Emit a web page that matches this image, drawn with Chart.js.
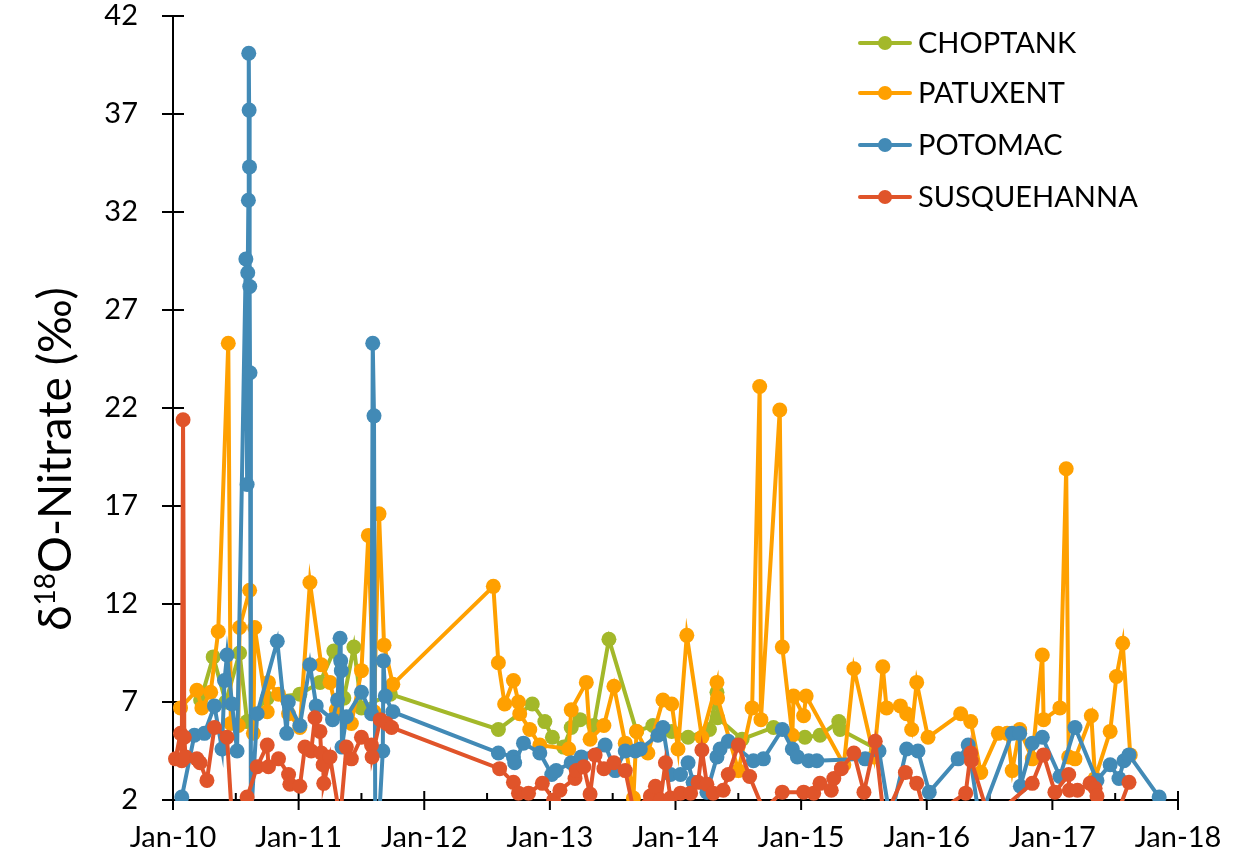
<!DOCTYPE html>
<html>
<head>
<meta charset="utf-8">
<script src="https://cdn.jsdelivr.net/npm/chart.js@4.4.1/dist/chart.umd.min.js"></script>
<style>
  html, body { margin: 0; padding: 0; background: #fff; }
  #wrap { width: 1248px; height: 858px; }
</style>
</head>
<body>
<div id="wrap"><canvas id="myChart" width="1248" height="858"></canvas></div>
<script>
// sample dates as decimal years, values in per mil
const choptankDates = [2010.22, 2010.32, 2010.42, 2010.53, 2010.59, 2010.75, 2011.01, 2011.17, 2011.28, 2011.36, 2011.44, 2011.50, 2011.73,
  2012.59, 2012.86, 2012.96, 2013.02, 2013.11, 2013.17, 2013.24, 2013.35, 2013.47, 2013.69, 2013.82, 2013.97, 2014.10, 2014.27,
  2014.33, 2014.335, 2014.53, 2014.78, 2015.03, 2015.15, 2015.30, 2015.31, 2015.60];
const choptankValues = [7.1, 9.3, 7.0, 9.5, 6.0, 7.2, 7.4, 8.0, 9.6, 7.2, 9.8, 6.7, 7.4,
  5.6, 6.9, 6.0, 5.2, 4.7, 5.7, 6.1, 5.8, 10.2, 5.5, 5.8, 5.5, 5.2, 5.6,
  7.5, 6.2, 5.1, 5.7, 5.2, 5.3, 6.0, 5.6, 4.6];

const patuxentDates = [2010.06, 2010.19, 2010.23, 2010.30, 2010.36, 2010.44, 2010.46, 2010.52, 2010.53, 2010.61, 2010.64, 2010.65,
  2010.75, 2010.76, 2010.84, 2010.92, 2011.01, 2011.09, 2011.18, 2011.25, 2011.30, 2011.42, 2011.50, 2011.555, 2011.60, 2011.64,
  2011.68, 2011.75, 2012.55, 2012.59, 2012.64, 2012.71, 2012.75, 2012.76, 2012.84, 2012.92, 2013.15, 2013.17, 2013.29, 2013.32,
  2013.43, 2013.51, 2013.60, 2013.665, 2013.69, 2013.78, 2013.90, 2013.97, 2014.02, 2014.09, 2014.21, 2014.33, 2014.335, 2014.50,
  2014.61, 2014.67, 2014.68, 2014.83, 2014.85, 2014.93, 2014.94, 2015.02, 2015.04, 2015.34, 2015.42, 2015.58, 2015.65, 2015.68,
  2015.79, 2015.84, 2015.88, 2015.92, 2016.01, 2016.27, 2016.35, 2016.43, 2016.57, 2016.64, 2016.68, 2016.74, 2016.84, 2016.92,
  2016.93, 2017.06, 2017.11, 2017.13, 2017.18, 2017.31, 2017.34, 2017.46, 2017.51, 2017.56, 2017.62];
const patuxentValues = [6.7, 7.6, 6.7, 7.5, 10.6, 25.3, 5.9, 5.8, 10.8, 12.7, 5.4, 10.8,
  6.5, 8.0, 7.4, 6.4, 5.7, 13.1, 8.9, 8.0, 6.6, 5.9, 8.6, 15.5, 6.5, 16.6,
  9.9, 7.9, 12.9, 9.0, 6.9, 8.1, 7.0, 6.4, 5.6, 4.8, 4.6, 6.6, 8.0, 5.1,
  5.8, 7.8, 4.9, 2.1, 5.5, 4.4, 7.1, 6.9, 4.6, 10.4, 5.2, 8.0, 7.2, 3.5,
  6.7, 23.1, 6.1, 21.9, 9.8, 5.3, 7.3, 6.3, 7.3, 3.8, 8.7, 4.2, 8.8, 6.7,
  6.8, 6.4, 5.6, 8.0, 5.2, 6.4, 6.0, 3.4, 5.4, 5.4, 3.5, 5.6, 4.1, 9.4,
  6.1, 6.7, 18.9, 4.2, 4.1, 6.3, 3.1, 5.5, 8.3, 10.0, 4.3];

const potomacDates = [2010.07, 2010.17, 2010.25, 2010.33, 2010.39, 2010.41, 2010.43, 2010.47, 2010.51, 2010.58, 2010.59, 2010.595,
  2010.60, 2010.603, 2010.606, 2010.609, 2010.611, 2010.613, 2010.62, 2010.67, 2010.83, 2010.905, 2010.918, 2011.01, 2011.09,
  2011.14, 2011.27, 2011.31, 2011.33, 2011.335, 2011.34, 2011.345, 2011.38, 2011.50, 2011.58, 2011.59, 2011.60, 2011.61, 2011.64,
  2011.67, 2011.675, 2011.69, 2011.75, 2012.59, 2012.71, 2012.72, 2012.79, 2012.92, 2013.015, 2013.05, 2013.17, 2013.25, 2013.44,
  2013.52, 2013.60, 2013.68, 2013.72, 2013.86, 2013.90, 2013.96, 2014.04, 2014.10, 2014.14, 2014.25, 2014.33, 2014.355, 2014.42,
  2014.62, 2014.70, 2014.85, 2014.93, 2014.97, 2015.06, 2015.125, 2015.51, 2015.62, 2015.71, 2015.84, 2015.93, 2016.02, 2016.25,
  2016.33, 2016.42, 2016.68, 2016.74, 2016.745, 2016.84, 2016.92, 2017.06, 2017.18, 2017.355, 2017.46, 2017.53, 2017.57, 2017.61,
  2017.85];
const potomacValues = [2.15, 5.3, 5.4, 6.8, 4.6, 8.1, 9.4, 6.9, 4.5, 29.6, 18.1, 28.9,
  32.6, 40.1, 37.2, 34.3, 28.2, 23.8, 1.0, 6.4, 10.1, 5.4, 7.0, 5.8, 8.9,
  6.8, 6.1, 7.1, 10.25, 9.1, 8.6, 4.7, 6.25, 7.5, 6.4, 25.3, 21.6, 1.0, 1.0,
  4.5, 9.1, 7.3, 6.5, 4.4, 4.2, 3.9, 4.9, 4.4, 3.3, 3.5, 3.9, 4.2, 4.8,
  3.5, 4.5, 4.5, 4.6, 5.3, 5.7, 3.3, 3.3, 3.9, 2.9, 2.4, 4.2, 4.6, 5.0,
  4.0, 4.1, 5.6, 4.6, 4.2, 4.0, 4.0, 4.1, 4.5, 1.0, 4.6, 4.5, 2.4, 4.1,
  4.8, 1.0, 5.4, 5.4, 2.7, 4.9, 5.2, 3.2, 5.7, 3.0, 3.8, 3.1, 4.0, 4.3,
  2.15];

const susquehannaDates = [2010.02, 2010.06, 2010.07, 2010.08, 2010.09, 2010.10, 2010.19, 2010.215, 2010.27, 2010.33, 2010.43, 2010.47,
  2010.59, 2010.67, 2010.75, 2010.76, 2010.84, 2010.92, 2010.93, 2011.01, 2011.05, 2011.10, 2011.13, 2011.17, 2011.18, 2011.195,
  2011.20, 2011.25, 2011.33, 2011.38, 2011.42, 2011.50, 2011.58, 2011.585, 2011.65, 2011.70, 2011.74, 2012.60, 2012.71, 2012.75,
  2012.83, 2012.94, 2013.03, 2013.08, 2013.20, 2013.21, 2013.27, 2013.32, 2013.36, 2013.43, 2013.51, 2013.60, 2013.665, 2013.80,
  2013.84, 2013.88, 2013.92, 2013.96, 2014.04, 2014.12, 2014.18, 2014.21, 2014.25, 2014.30, 2014.38, 2014.42, 2014.50, 2014.59,
  2014.70, 2014.85, 2015.02, 2015.10, 2015.15, 2015.24, 2015.26, 2015.32, 2015.42, 2015.50, 2015.59, 2015.66, 2015.83, 2015.92,
  2016.00, 2016.31, 2016.35, 2016.355, 2016.50, 2016.84, 2016.93, 2017.02, 2017.13, 2017.135, 2017.20, 2017.30, 2017.34, 2017.355,
  2017.50, 2017.61];
const susquehannaValues = [4.1, 5.4, 4.0, 21.4, 5.2, 4.2, 4.1, 3.9, 3.0, 5.7, 5.2, 1.0,
  2.15, 3.7, 4.8, 3.7, 4.1, 3.3, 2.8, 2.7, 4.7, 4.5, 6.2, 5.5, 4.4, 3.8,
  2.85, 4.2, 1.0, 4.7, 4.1, 5.2, 4.8, 4.2, 6.1, 5.9, 5.7, 3.6, 2.9, 2.35,
  2.35, 2.85, 2.0, 2.5, 3.1, 3.5, 3.7, 2.3, 4.3, 3.6, 3.9, 3.5, 1.5, 2.2,
  2.7, 2.0, 3.9, 2.1, 2.35, 2.35, 2.9, 4.55, 2.8, 2.35, 2.5, 3.3, 4.8, 3.2,
  1.5, 2.4, 2.4, 2.35, 2.85, 2.5, 3.1, 3.6, 4.4, 2.4, 5.0, 1.0, 3.4, 2.85,
  1.0, 2.35, 4.4, 4.0, 1.0, 2.85, 4.3, 2.4, 3.3, 2.5, 2.5, 2.85, 2.6, 2.2,
  1.0, 2.9];

const yTicks = [2, 7, 12, 17, 22, 27, 32, 37, 42];
const yearTicks = [2010, 2011, 2012, 2013, 2014, 2015, 2016, 2017, 2018];

const FONT = 'Lato, "Open Sans", sans-serif';
const toPoints = (dates, values) => dates.map((d, i) => ({ x: d, y: values[i] }));

function series(label, dates, values, color, order) {
  return {
    label: label,
    data: toPoints(dates, values),
    borderColor: color,
    backgroundColor: color,
    pointBackgroundColor: color,
    pointBorderWidth: 0,
    pointRadius: 7.5,
    borderWidth: 4,
    tension: 0,
    order: order,
    clip: { left: 10, top: 10, right: 10, bottom: 1 }
  };
}

// axis lines, cross ticks, title and legend drawn by hand
const decorPlugin = {
  id: 'decor',
  beforeDatasetsDraw(chart) {
    const { ctx, chartArea: a, scales } = chart;
    ctx.save();
    ctx.strokeStyle = '#000';
    ctx.lineWidth = 2;
    ctx.beginPath();
    ctx.moveTo(a.left, a.top - 1);
    ctx.lineTo(a.left, a.bottom);
    ctx.lineTo(a.right, a.bottom);
    yTicks.forEach(v => {
      const y = scales.y.getPixelForValue(v);
      ctx.moveTo(a.left - 11, y);
      ctx.lineTo(a.left + 11, y);
    });
    for (let yr = 2010; yr <= 2018; yr += 0.5) {
      const x = scales.x.getPixelForValue(yr);
      if (Number.isInteger(yr)) {
        ctx.moveTo(x, a.bottom - 9);
        ctx.lineTo(x, a.bottom + 10);
      } else {
        ctx.moveTo(x, a.bottom - 7);
        ctx.lineTo(x, a.bottom);
      }
    }
    ctx.stroke();
    ctx.restore();
  },
  afterDraw(chart) {
    const { ctx } = chart;
    // y axis title with superscript 18
    ctx.save();
    ctx.translate(71, 459);
    ctx.rotate(-Math.PI / 2);
    ctx.fillStyle = '#000';
    ctx.textBaseline = 'alphabetic';
    const big = '46px ' + FONT, small = '28px ' + FONT;
    ctx.font = big;
    const w1 = ctx.measureText('\u03b4').width;
    const w3 = ctx.measureText('O-Nitrate (\u2030)').width;
    ctx.font = small;
    const w2 = ctx.measureText('18').width;
    let x = -(w1 + w2 + w3) / 2;
    ctx.font = big;
    ctx.fillText('\u03b4', x, 0);
    x += w1;
    ctx.font = small;
    ctx.fillText('18', x, -16);
    x += w2;
    ctx.font = big;
    ctx.fillText('O-Nitrate (\u2030)', x, 0);
    ctx.restore();

    // legend
    ctx.save();
    const rows = [43, 93, 145, 197];
    chart.data.datasets.forEach((ds, i) => {
      const y = rows[i];
      ctx.strokeStyle = ds.borderColor;
      ctx.lineWidth = 4;
      ctx.lineCap = 'round';
      ctx.beginPath();
      ctx.moveTo(860, y);
      ctx.lineTo(910, y);
      ctx.stroke();
      ctx.fillStyle = ds.borderColor;
      ctx.beginPath();
      ctx.arc(885, y, 7, 0, Math.PI * 2);
      ctx.fill();
      ctx.fillStyle = '#000';
      ctx.font = '29px ' + FONT;
      ctx.textBaseline = 'middle';
      ctx.fillText(ds.label, 918, y + 1);
    });
    ctx.restore();
  }
};

new Chart(document.getElementById('myChart'), {
  type: 'line',
  data: {
    datasets: [
      series('CHOPTANK', choptankDates, choptankValues, '#a3b82a', 4),
      series('PATUXENT', patuxentDates, patuxentValues, '#ffa000', 3),
      series('POTOMAC', potomacDates, potomacValues, '#428ab6', 2),
      series('SUSQUEHANNA', susquehannaDates, susquehannaValues, '#e0542a', 1)
    ]
  },
  options: {
    responsive: false,
    animation: false,
    devicePixelRatio: 1,
    events: [],
    layout: { padding: { top: 16, right: 70, left: 0, bottom: 0 } },
    plugins: { legend: { display: false }, tooltip: { enabled: false } },
    scales: {
      x: {
        type: 'linear',
        min: 2010,
        max: 2018,
        afterFit: s => { s.height = 58; s.paddingLeft = 0; s.paddingRight = 0; },
        afterBuildTicks: s => { s.ticks = yearTicks.map(v => ({ value: v })); },
        grid: { display: false, drawTicks: false },
        border: { display: false },
        ticks: {
          color: '#000',
          font: { family: FONT, size: 29 },
          padding: 20,
          maxRotation: 0,
          autoSkip: false,
          callback: v => 'Jan-' + String(v).slice(2)
        }
      },
      y: {
        min: 2,
        max: 42,
        afterFit: s => { s.width = 173; s.paddingTop = 0; s.paddingBottom = 0; },
        afterBuildTicks: s => { s.ticks = yTicks.map(v => ({ value: v })); },
        grid: { display: false, drawTicks: false },
        border: { display: false },
        ticks: {
          color: '#000',
          font: { family: FONT, size: 29 },
          padding: 35
        }
      }
    }
  },
  plugins: [decorPlugin]
});
</script>
</body>
</html>
